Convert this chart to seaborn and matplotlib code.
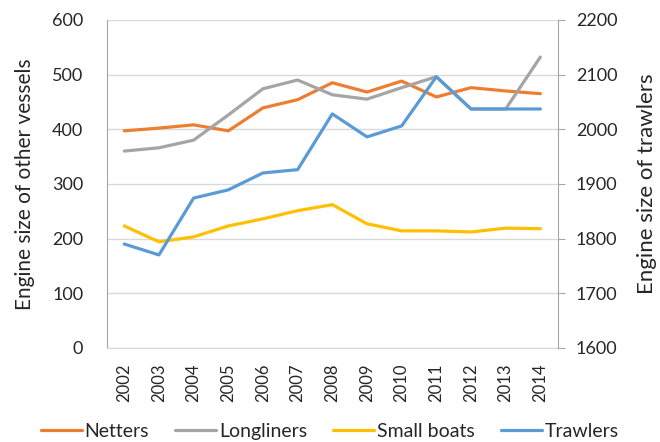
import numpy as np
import pandas as pd
import matplotlib
matplotlib.use("Agg")
import matplotlib.pyplot as plt
import seaborn as sns
from matplotlib.lines import Line2D

# Data
years = list(range(2002, 2015))
netters = [397, 402, 408, 397, 439, 454, 485, 468, 488, 459, 476, 470, 465]
longliners = [360, 366, 380, 426, 474, 490, 463, 455, 476, 496, 437, 437, 532]
small_boats = [223, 194, 203, 223, 236, 251, 262, 227, 214, 214, 212, 219, 218]
trawlers = [1790, 1770, 1874, 1889, 1920, 1926, 2028, 1986, 2006, 2096, 2037, 2037, 2037]

colors = {"Netters": "#ED7D31", "Longliners": "#A5A5A5",
          "Small boats": "#FFC000", "Trawlers": "#5B9BD5"}

sns.set_style("white")
plt.rcParams["font.family"] = ["Lato", "DejaVu Sans"]

left_df = pd.DataFrame({"Year": years * 3,
                        "Value": netters + longliners + small_boats,
                        "Type": ["Netters"] * 13 + ["Longliners"] * 13 + ["Small boats"] * 13})
right_df = pd.DataFrame({"Year": years, "Value": trawlers, "Type": "Trawlers"})

fig = plt.figure(figsize=(6.6, 4.42), dpi=100)
ax = fig.add_axes([0.162, 0.213, 0.683, 0.742])
ax2 = ax.twinx()

sns.lineplot(data=left_df, x="Year", y="Value", hue="Type", palette=colors,
             linewidth=2.3, ax=ax, legend=False)
sns.lineplot(data=right_df, x="Year", y="Value", color=colors["Trawlers"],
             linewidth=2.3, ax=ax2, legend=False)

ax.set_xlim(2001.5, 2014.5)
ax.set_ylim(0, 600)
ax.set_yticks(range(0, 601, 100))
ax2.set_ylim(1600, 2200)
ax2.set_yticks(range(1600, 2201, 100))
ax.set_xticks(years)
ax.set_xticklabels([str(y) for y in years], rotation=90)

ax.grid(axis="y", color="#D9D9D9", linewidth=1)
ax.set_axisbelow(True)
ax2.grid(False)

for a in (ax, ax2):
    a.spines["top"].set_visible(False)
    a.spines["left"].set_color("#A6A6A6")
    a.spines["right"].set_color("#A6A6A6")
    a.spines["bottom"].set_color("#D9D9D9")
ax.spines["right"].set_visible(False)
ax2.spines["left"].set_visible(False)
ax2.spines["bottom"].set_visible(False)

ax.tick_params(axis="y", length=0, labelsize=13, pad=17)
ax.tick_params(axis="x", length=0, labelsize=12, pad=11)
ax2.tick_params(axis="y", length=5, color="#A6A6A6", labelsize=13, pad=8, direction="out")

ax.set_xlabel("")
ax.set_ylabel("Engine size of other vessels", fontsize=15, labelpad=12)
ax2.set_xlabel("")
ax2.set_ylabel("Engine size of trawlers", fontsize=16, labelpad=14)

handles = [Line2D([0], [0], color=colors[k], linewidth=2.3) for k in colors]
fig.legend(handles, list(colors.keys()), loc="lower center", ncol=4, frameon=False,
           fontsize=14, bbox_to_anchor=(0.5, -0.035), handlelength=2.1,
           handletextpad=0.15, columnspacing=1.35)

fig.savefig("out.png", dpi=100)
